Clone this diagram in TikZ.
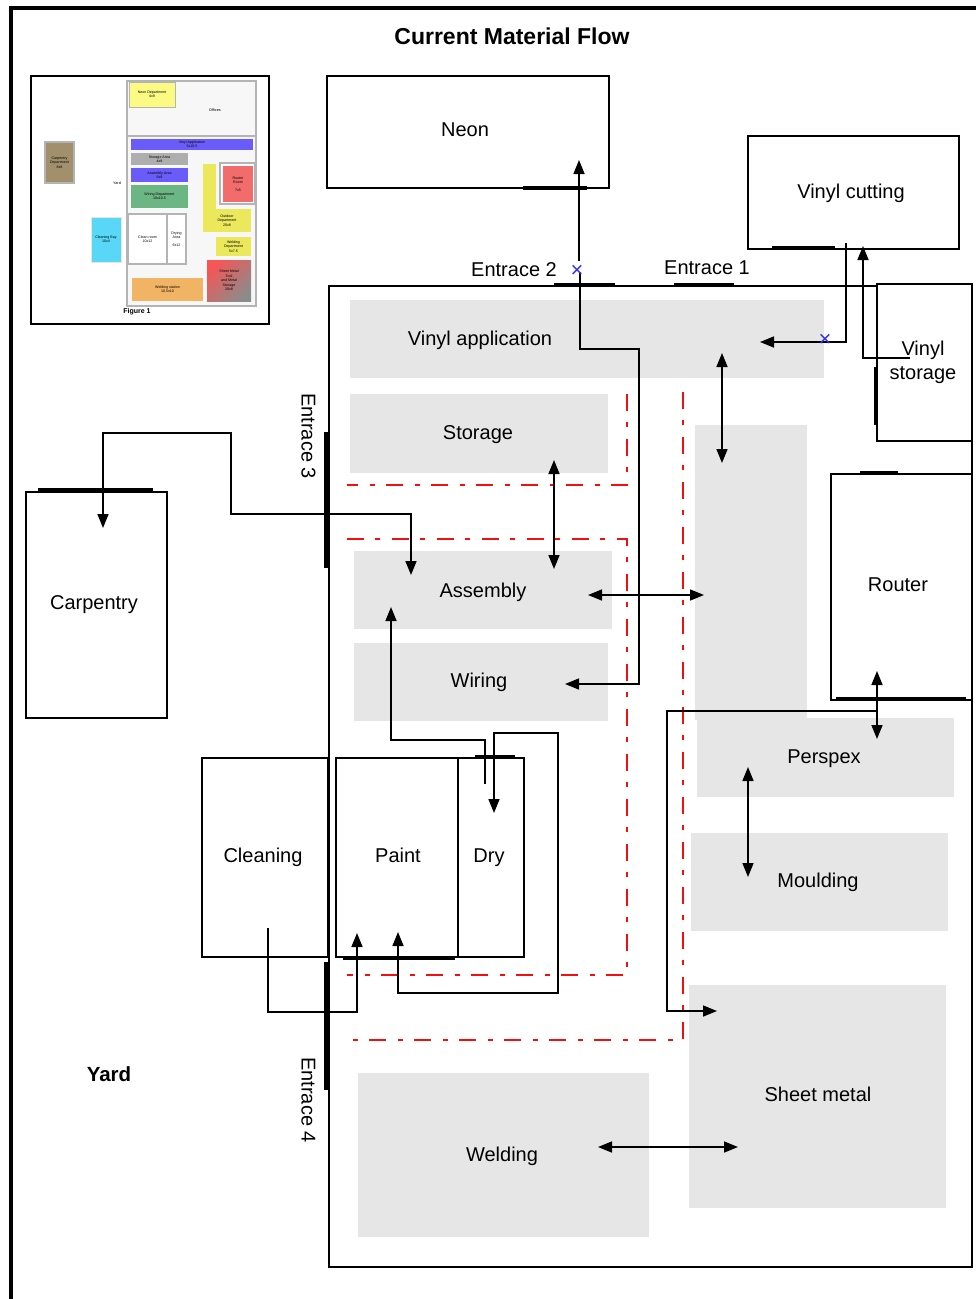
\documentclass[tikz,border=0pt]{standalone}
\usepackage{fontspec}
\setmainfont{Liberation Sans}
\usetikzlibrary{
  arrows.meta,
  calc
}
\definecolor{AreaGrey}{HTML}{E6E6E6}
\definecolor{FlowRed}{HTML}{F01010}
\definecolor{MarkBlue}{HTML}{3030F0}
\definecolor{ThumbWall}{HTML}{B4B4B4}
\definecolor{ThumbYellow}{HTML}{ECE85C}
\definecolor{ThumbPale}{HTML}{FBFB84}
\definecolor{ThumbViolet}{HTML}{6A5CFA}
\definecolor{ThumbStone}{HTML}{AFAEAE}
\definecolor{ThumbGreen}{HTML}{6CB684}
\definecolor{ThumbRose}{HTML}{F26C6C}
\definecolor{ThumbOrange}{HTML}{F0B464}
\definecolor{ThumbBrown}{HTML}{A2906C}
\definecolor{ThumbCyan}{HTML}{58D8F6}
\tikzset{
  % Walled room: size comes from the node options
  room/.style={
    rectangle, draw=black, line width=1.6pt, fill=white,
    anchor=north west, inner sep=0pt, outer sep=0pt
  },
  % Grey work area, label placed on its own
  area/.style={
    rectangle, fill=AreaGrey, anchor=north west, inner sep=0pt, outer sep=0pt
  },
  % Room or entrance label
  lbl/.style={
    font=\fontsize{20}{24}\selectfont, align=center, inner sep=0pt,
    text height=19pt, text depth=4pt
  },
  % Bold heading
  head/.style={font=\fontsize{#1}{24}\selectfont\bfseries, inner sep=0pt},
  head/.default=20.5,
  % Flow arrow
  flow/.style={
    line width=1.6pt, color=black,
    arrows={-{Triangle[length=14pt,width=11pt]}}
  },
  % Two-way flow arrow
  both/.style={
    line width=1.6pt, color=black,
    arrows={{Triangle[length=14pt,width=11pt]}-{Triangle[length=14pt,width=11pt]}}
  },
  % Heavy door line
  door/.style={line width=3.4pt, color=black},
  % Red aisle marking
  aisle/.style={
    line width=1.6pt, color=FlowRed,
    dash pattern=on 17pt off 11pt on 5pt off 12pt
  },
  % Small blue cross
  cross/.style={
    color=MarkBlue, inner sep=0pt, font=\fontsize{22}{22}\selectfont
  },
  % Coloured block of the small layout
  thumb/.style={
    rectangle, fill=#1, anchor=north west, inner sep=0pt, outer sep=0pt, align=center,
    font=\fontsize{3.6}{4.4}\selectfont
  }
}

\begin{document}
\begin{tikzpicture}[x=1pt,y=-1pt]
  \useasboundingbox (0,0) rectangle (976,1299);

  % Page frame
  \draw[line width=3.4pt] (11,1299) -- (11,8) -- (976,8);
  \node[head=23] (title) at (512,36) {Current Material Flow};

  % Small layout, top left
  \node[thumb=white, draw=black, line width=1.8pt, minimum width=238, minimum height=248] (tFrame) at (31,76) {};
  \node[thumb=white!97!black, draw=ThumbWall, line width=1.2pt, minimum width=129, minimum height=225] (tShell) at (127,81) {};
  \draw[ThumbWall, line width=1.2pt] (127,136) -- (256,136);
  \node[thumb=ThumbPale, draw=ThumbWall, minimum width=46, minimum height=25] (tNeon) at (129,82) {Neon Department\\4x9};
  \node[font=\fontsize{3.8}{4.4}\selectfont, inner sep=0pt] (tOffices) at (215,110) {Offices};
  \node[thumb=ThumbViolet, minimum width=122, minimum height=11] (tVinyl) at (131,139) {Vinyl Application\\5x10.5};
  \node[thumb=ThumbStone, minimum width=57, minimum height=12] (tStorage) at (131,153) {Storage Area\\4x9};
  \node[thumb=ThumbViolet, minimum width=57, minimum height=14] (tAssembly) at (131,168) {Assembly Area\\6x9};
  \node[thumb=ThumbGreen, minimum width=57, minimum height=23] (tWiring) at (131,185) {Wiring Department\\10x10.5};
  \node[thumb=white, draw=ThumbWall, line width=1.2pt, minimum width=39, minimum height=50] (tClean) at (128,214) {Clean room\\10x12};
  \node[thumb=white, draw=ThumbWall, line width=1.2pt, minimum width=19, minimum height=50] (tDrying) at (167,214) {Drying\\Area\\[3pt]6x12};
  \node[thumb=ThumbYellow, minimum width=13, minimum height=46] (tOutUp) at (203,164) {};
  \node[thumb=ThumbYellow, minimum width=48, minimum height=23] (tOutdoor) at (203,209) {Outdoor\\Department\\20x8};
  \node[thumb=white, draw=ThumbWall, line width=1.2pt, minimum width=35, minimum height=41] (tRouterWall) at (220,163) {};
  \node[thumb=ThumbRose, minimum width=30, minimum height=36] (tRouter) at (223,166) {Router\\Room\\[3pt]7x5};
  \node[thumb=ThumbYellow, minimum width=35, minimum height=19] (tWeldDept) at (216,237) {Welding\\Department\\5x7.5};
  \node[rectangle, anchor=north west, inner sep=0pt, outer sep=0pt, align=center, left color=ThumbRose!80!red, right color=ThumbStone!80!black, shading angle=45, minimum width=44, minimum height=41, font=\fontsize{3.6}{4.4}\selectfont] (tSheet) at (207,260) {Sheet Metal\\Tool\\and Metal\\Storage\\20x8};
  \node[thumb=ThumbOrange, minimum width=71, minimum height=23] (tWelding) at (132,278) {Welding station\\10.5x10};
  \node[thumb=ThumbBrown, draw=ThumbWall, line width=1.2pt, minimum width=29, minimum height=41] (tCarpentry) at (45,142) {Carpentry\\Department\\8x8};
  \node[thumb=ThumbCyan, draw=white!90!black, minimum width=30, minimum height=45] (tCleaning) at (91,217) {Cleaning Bay\\10x4};
  \node[font=\fontsize{3.8}{4.4}\selectfont, inner sep=0pt] (tYard) at (117,183) {Yard};
  \node[font=\fontsize{7}{8}\selectfont\bfseries, inner sep=0pt] (tFigure) at (137,312) {Figure 1};

  % Building shell and outside rooms
  \node[room, minimum width=643, minimum height=981] (shell) at (329,286) {};
  \node[room, minimum width=282, minimum height=112] (neon) at (327,76) {};
  \node[lbl] (neonLbl) at (465,129) {Neon};
  \node[room, minimum width=211, minimum height=113] (cutting) at (748,136) {};
  \node[lbl] (cuttingLbl) at (851,191) {Vinyl cutting};
  \node[room, minimum width=95, minimum height=157] (storeVinyl) at (877,284) {};
  \node[room, minimum width=141, minimum height=226] (carpentry) at (26,492) {};
  \node[lbl] (carpentryLbl) at (94,602) {Carpentry};
  \node[room, minimum width=126, minimum height=199] (cleaning) at (202,758) {};
  \node[lbl] (cleaningLbl) at (263,855) {Cleaning};

  % Grey work areas
  \node[area, minimum width=474, minimum height=78] (vinylApp) at (350,300) {};
  \node[area, minimum width=258, minimum height=79] (storage) at (350,394) {};
  \node[area, minimum width=258, minimum height=78] (assembly) at (354,551) {};
  \node[area, minimum width=254, minimum height=78] (wiring) at (354,643) {};
  \node[area, minimum width=112, minimum height=295] (corridor) at (695,425) {};
  \node[area, minimum width=257, minimum height=79] (perspex) at (697,718) {};
  \node[area, minimum width=257, minimum height=98] (moulding) at (691,833) {};
  \node[area, minimum width=257, minimum height=223] (sheet) at (689,985) {};
  \node[area, minimum width=291, minimum height=164] (welding) at (358,1073) {};

  % Rooms inside the shell
  \node[room, minimum width=141, minimum height=226] (router) at (831,474) {};
  \node[lbl] (routerLbl) at (898,584) {Router};
  \node[room, minimum width=122, minimum height=199] (paint) at (336,758) {};
  \node[lbl] (paintLbl) at (398,855) {Paint};
  \node[room, minimum width=66, minimum height=199] (dry) at (458,758) {};
  \node[lbl] (dryLbl) at (489,855) {Dry};

  % Area labels
  \node[lbl] (vinylLbl) at (480,338) {Vinyl application};
  \node[lbl, text height=15pt, text depth=0pt] (storeVinylLbl) at (923,372) {Vinyl\\storage};
  \node[lbl] (storageLbl) at (478,432) {Storage};
  \node[lbl] (assemblyLbl) at (483,590) {Assembly};
  \node[lbl] (wiringLbl) at (479,680) {Wiring};
  \node[lbl] (perspexLbl) at (824,756) {Perspex};
  \node[lbl] (mouldingLbl) at (818,880) {Moulding};
  \node[lbl] (sheetLbl) at (818,1094) {Sheet metal};
  \node[lbl] (weldingLbl) at (502,1154) {Welding};
  \node[head] (yard) at (109,1074) {Yard};

  % Entrance labels
  \node[lbl] (ent2) at (514,269) {Entrace 2};
  \node[lbl] (ent1) at (707,267) {Entrace 1};
  \node[lbl, rotate=-90] (ent3) at (309,436) {Entrace 3};
  \node[lbl, rotate=-90] (ent4) at (309,1100) {Entrace 4};

  % Doors
  \draw[door] (523,188) -- (587,188);
  \draw[door] (772,248) -- (835,248);
  \draw[door] (554,285) -- (615,285);
  \draw[door] (674,285) -- (734,285);
  \draw[door] (876,367) -- (876,425);
  \draw[door] (860,473) -- (898,473);
  \draw[door] (836,699) -- (966,699);
  \draw[door] (38,490) -- (153,490);
  \draw[door] (326,432) -- (326,568);
  \draw[door] (326,962) -- (326,1090);
  \draw[door] (475,757) -- (515,757);
  \draw[door] (343,958) -- (455,958);

  % Red aisles
  \draw[aisle] (627,394) -- (627,485) -- (347,485);
  \draw[aisle] (347,539) -- (627,539) -- (627,975) -- (347,975);
  \draw[aisle] (683,392) -- (683,1040) -- (345,1040);

  % Flow ends
  \coordinate (neonTip) at (579,160);
  \coordinate (neonTail) at (579,261);
  \coordinate (wiringTail) at (580,272);
  \coordinate (wiringBend) at (639,349);
  \coordinate (wiringTip) at (565,684);
  \coordinate (cutTail) at (846,243);
  \coordinate (vinylTip) at (760,342);
  \coordinate (cutTip) at (863,246);
  \coordinate (storeTail) at (910,358);
  \coordinate (corrTop) at (722,353);
  \coordinate (corrLow) at (722,463);
  \coordinate (storTop) at (554,460);
  \coordinate (storLow) at (554,569);
  \coordinate (asmLeft) at (588,595);
  \coordinate (asmRight) at (704,595);
  \coordinate (routTop) at (877,671);
  \coordinate (routLow) at (877,739);
  \coordinate (routJoin) at (877,711);
  \coordinate (sheetBend) at (667,711);
  \coordinate (sheetTip) at (717,1011);
  \coordinate (persTop) at (748,767);
  \coordinate (mouldLow) at (748,877);
  \coordinate (weldLeft) at (598,1147);
  \coordinate (weldRight) at (738,1147);
  \coordinate (asmTip) at (411,575);
  \coordinate (asmBend) at (231,514);
  \coordinate (carpTip) at (103,528);
  \coordinate (carpBend) at (231,433);
  \coordinate (paintOutTip) at (391,607);
  \coordinate (paintOutTail) at (485,784);
  \coordinate (dryTip) at (494,813);
  \coordinate (dryBend) at (558,733);
  \coordinate (paintInBend) at (558,993);
  \coordinate (paintInTip) at (398,932);
  \coordinate (cleanTail) at (268,928);
  \coordinate (cleanTip) at (357,933);

  % Flows
  \draw[flow] (neonTail) -- (neonTip);
  \draw[flow] (wiringTail) |- (wiringBend) |- (wiringTip);
  \draw[flow] (cutTail) |- (vinylTip);
  \draw[flow] (storeTail) -| (cutTip);
  \draw[both] (corrTop) -- (corrLow);
  \draw[both] (storTop) -- (storLow);
  \draw[both] (asmLeft) -- (asmRight);
  \draw[both] (routTop) -- (routLow);
  \draw[flow] (routJoin) -- (sheetBend) |- (sheetTip);
  \draw[both] (persTop) -- (mouldLow);
  \draw[both] (weldLeft) -- (weldRight);
  \draw[both] (asmTip) |- (asmBend) -- (carpBend) -| (carpTip);
  \draw[flow] (paintOutTail) |- ($(paintOutTip)+(0,133)$) -- (paintOutTip);
  \draw[both] (paintInTip) |- (paintInBend) -- (dryBend) -| (dryTip);
  \draw[flow] (cleanTail) |- ($(cleanTip)+(0,79)$) -- (cleanTip);

  % Blue crosses
  \node[cross] (crossNeon) at (577,271) {×};
  \node[cross] (crossVinyl) at (825,340) {×};

\end{tikzpicture}
\end{document}
